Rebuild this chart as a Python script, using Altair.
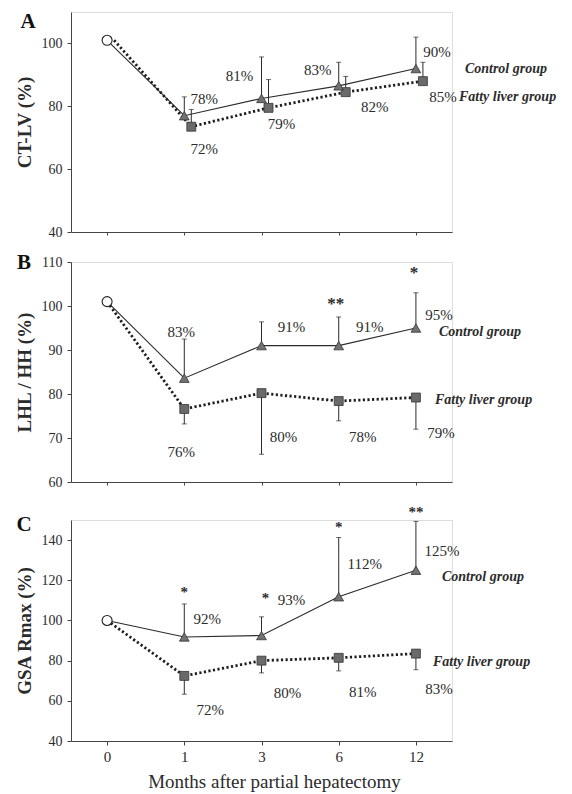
import altair as alt
import pandas as pd

FONT = "Liberation Serif, Times New Roman, serif"

months = ["0", "1", "3", "6", "12"]

# ---------------- Panel A : CT-LV (%) ----------------
a_ctrl = [101, 77, 82.5, 86.5, 92]
a_ctrl_err = [None, 83, 95.7, 94, 102]
a_fat = [101, 73.5, 79.5, 84.5, 88]
a_fat_err = [None, 79, 88.5, 89.5, 94]
a_lab_text = ["78%", "72%", "81%", "79%", "83%", "82%", "90%", "85%"]
a_lab_month = ["1", "1", "3", "3", "6", "6", "12", "12"]
a_lab_val = [82.3, 66.4, 89.6, 74.4, 91.5, 79.8, 97.3, 83]
a_grp_val = [91.9, 83]          # Control group, Fatty liver group
a_star_text = []
a_star_month = []
a_star_val = []

# ---------------- Panel B : LHL / HH (%) ----------------
b_ctrl = [101, 83.6, 91, 91, 95]
b_ctrl_err = [None, 92.5, 96.4, 97.5, 103]
b_fat = [101, 76.6, 80.2, 78.4, 79.2]
b_fat_err = [None, 73.2, 66.3, 73.9, 72]
b_lab_text = ["83%", "91%", "91%", "95%", "76%", "80%", "78%", "79%"]
b_lab_month = ["1", "3", "6", "12", "1", "3", "6", "12"]
b_lab_val = [94.2, 95.3, 95.3, 97.9, 66.8, 70.2, 70.2, 71.1]
b_grp_val = [94.1, 78.6]
b_star_text = ["**", "*"]
b_star_month = ["6", "12"]
b_star_val = [100.7, 107.7]

# ---------------- Panel C : GSA Rmax (%) ----------------
c_ctrl = [100, 91.8, 92.5, 111.8, 125]
c_ctrl_err = [None, 108.2, 101.8, 141.3, 149.3]
c_fat = [100, 72.4, 80, 81.4, 83.5]
c_fat_err = [None, 63.3, 73.9, 74.9, 75.5]
c_lab_text = ["92%", "93%", "112%", "125%", "72%", "80%", "81%", "83%"]
c_lab_month = ["1", "3", "6", "12", "1", "3", "6", "12"]
c_lab_val = [100.8, 110.2, 128.3, 134.6, 55.4, 63.9, 64.4, 65.9]
c_grp_val = [121.6, 79.3]
c_star_text = ["*", "*", "*", "**"]
c_star_month = ["1", "3", "6", "12"]
c_star_val = [114.7, 111.9, 147, 154.6]

# label horizontal offsets (px) - styling
a_lab_dx = [20, 20, -22, 20, -21, 36, 21, 27]
b_lab_dx = [-3, 30, 31, 23, -3, 22, 24, 25]
c_lab_dx = [23, 30, 26, 26, 26, 26, 24, 23]
a_star_dx = []
b_star_dx = [-3, -2]
c_star_dx = [0, 4, 0, 0]

W = 381
INK = "#2b2b2b"


def panel(letter, letter_pos, ytitle, domain, ticks, height,
          ctrl, ctrl_err, fat, fat_err,
          lab_text, lab_month, lab_val, lab_dx,
          grp_val, grp_dx,
          star_text, star_month, star_val, star_dx, star_size,
          show_x, fat_off, x_extent):
    df = pd.DataFrame({"month": months, "ctrl": ctrl, "ctrl_err": ctrl_err,
                       "fat": fat, "fat_err": fat_err})
    xscale = alt.Scale(domain=months, type="point", padding=0.4675)
    if show_x:
        xaxis = alt.Axis(title="Months after partial hepatectomy", labelAngle=0,
                         labelFont=FONT, labelFontSize=15, labelColor=INK,
                         labelPadding=4, titleFont=FONT, titleFontSize=19,
                         titleFontWeight="normal", titleColor=INK, titlePadding=8,
                         titleX=203, domainColor="#444", tickColor="#444",
                         tickSize=4, grid=False)
    else:
        xaxis = alt.Axis(title=None, labels=False, domainColor="#444",
                         tickColor="#444", tickSize=3, grid=False,
                         minExtent=x_extent, maxExtent=x_extent)
    yscale = alt.Scale(domain=domain, nice=False, zero=False)
    yaxis = alt.Axis(values=ticks, title=ytitle, titleFont=FONT, titleFontSize=19,
                     titleFontWeight="bold", titleColor=INK, titleAngle=270,
                     titleBaseline="middle", titleAlign="center",
                     titleX=-47, titleY=height / 2,
                     labelFont=FONT, labelFontSize=14, labelColor=INK,
                     labelPadding=5, domainColor="#444", tickColor="#444",
                     tickSize=4, grid=False)

    def X():
        return alt.X("month:O", sort=months, scale=xscale, axis=xaxis)

    def Y(f):
        return alt.Y(f, type="quantitative", scale=yscale, axis=yaxis)

    base = alt.Chart(df)
    later = base.transform_filter("datum.month != '0'")
    layers = []
    layers.append(base.mark_line(color=INK, strokeWidth=1.1).encode(x=X(), y=Y("ctrl")))
    layers.append(base.mark_line(color="#1e1e1e", strokeWidth=2.8, strokeDash=[2.2, 2.4],
                                 xOffset=fat_off).encode(x=X(), y=Y("fat")))
    # error bars
    layers.append(later.mark_rule(color=INK, strokeWidth=1, xOffset=fat_off)
                  .encode(x=X(), y=Y("fat"), y2="fat_err"))
    layers.append(later.mark_tick(color=INK, thickness=1, size=5, xOffset=fat_off)
                  .encode(x=X(), y=Y("fat_err")))
    layers.append(later.mark_rule(color=INK, strokeWidth=1)
                  .encode(x=X(), y=Y("ctrl"), y2="ctrl_err"))
    layers.append(later.mark_tick(color=INK, thickness=1, size=5)
                  .encode(x=X(), y=Y("ctrl_err")))
    # markers
    layers.append(later.mark_point(shape="square", filled=True, color="#6a6a6a",
                                   stroke="#333", strokeWidth=0.8, size=80, opacity=1,
                                   xOffset=fat_off)
                  .encode(x=X(), y=Y("fat")))
    layers.append(later.mark_point(shape="triangle-up", filled=True, color="#727272",
                                   stroke="#333", strokeWidth=0.8, size=95, opacity=1)
                  .encode(x=X(), y=Y("ctrl")))
    layers.append(base.transform_filter("datum.month == '0'")
                  .mark_point(shape="circle", filled=True, fill="white", stroke="#222",
                              strokeWidth=1.1, size=100, opacity=1)
                  .encode(x=X(), y=Y("ctrl")))
    # percent labels
    for t, m, v, dx in zip(lab_text, lab_month, lab_val, lab_dx):
        d = pd.DataFrame({"month": [m], "v": [v], "t": [t]})
        layers.append(alt.Chart(d).mark_text(font=FONT, fontSize=15, color=INK,
                                             align="center", baseline="middle", dx=dx)
                      .encode(x=X(), y=Y("v"), text="t:N"))
    # group labels
    for t, v, dx in zip(["Control group", "Fatty liver group"], grp_val, grp_dx):
        d = pd.DataFrame({"month": ["12"], "v": [v], "t": [t]})
        layers.append(alt.Chart(d).mark_text(font=FONT, fontSize=14, fontStyle="italic",
                                             fontWeight="bold", color=INK,
                                             align="left", baseline="middle", dx=dx)
                      .encode(x=X(), y=Y("v"), text="t:N"))
    # significance stars
    for t, m, v, dx in zip(star_text, star_month, star_val, star_dx):
        d = pd.DataFrame({"month": [m], "v": [v], "t": [t]})
        layers.append(alt.Chart(d).mark_text(font=FONT, fontSize=star_size, color=INK,
                                             fontWeight="bold", align="center",
                                             baseline="middle", dx=dx, dy=star_size * 0.08)
                      .encode(x=X(), y=Y("v"), text="t:N"))
    # panel letter
    ld = pd.DataFrame({"t": [letter]})
    layers.append(alt.Chart(ld).mark_text(font=FONT, fontSize=21, fontWeight="bold",
                                          color="#111", align="center", baseline="middle")
                  .encode(x=alt.value(letter_pos[0]), y=alt.value(letter_pos[1]),
                          text="t:N"))
    return alt.layer(*layers).properties(width=W, height=height)


pA = panel("A", (-43, 10), "CT-LV (%)", [40, 110], [40, 60, 80, 100], 220,
           a_ctrl, a_ctrl_err, a_fat, a_fat_err,
           a_lab_text, a_lab_month, a_lab_val, a_lab_dx,
           a_grp_val, [49, 43],
           a_star_text, a_star_month, a_star_val, a_star_dx, 16,
           False, 7, 4)
pB = panel("B", (-47, 1), "LHL / HH (%)", [60, 110], [60, 70, 80, 90, 100, 110], 220,
           b_ctrl, b_ctrl_err, b_fat, b_fat_err,
           b_lab_text, b_lab_month, b_lab_val, b_lab_dx,
           b_grp_val, [23, 19],
           b_star_text, b_star_month, b_star_val, b_star_dx, 17,
           False, 0, 10)
pC = panel("C", (-47, 5), "GSA Rmax (%)", [40, 150], [40, 60, 80, 100, 120, 140], 221,
           c_ctrl, c_ctrl_err, c_fat, c_fat_err,
           c_lab_text, c_lab_month, c_lab_val, c_lab_dx,
           c_grp_val, [26, 17],
           c_star_text, c_star_month, c_star_val, c_star_dx, 15,
           True, 0, 0)

chart = alt.vconcat(pA, pB, pC, spacing=11).properties(
    padding={"left": 14, "top": 10, "right": 0, "bottom": 0}
).configure_view(stroke=None).configure(background="white")

chart.save("out.html", embed_options={"renderer": "svg", "actions": False})
